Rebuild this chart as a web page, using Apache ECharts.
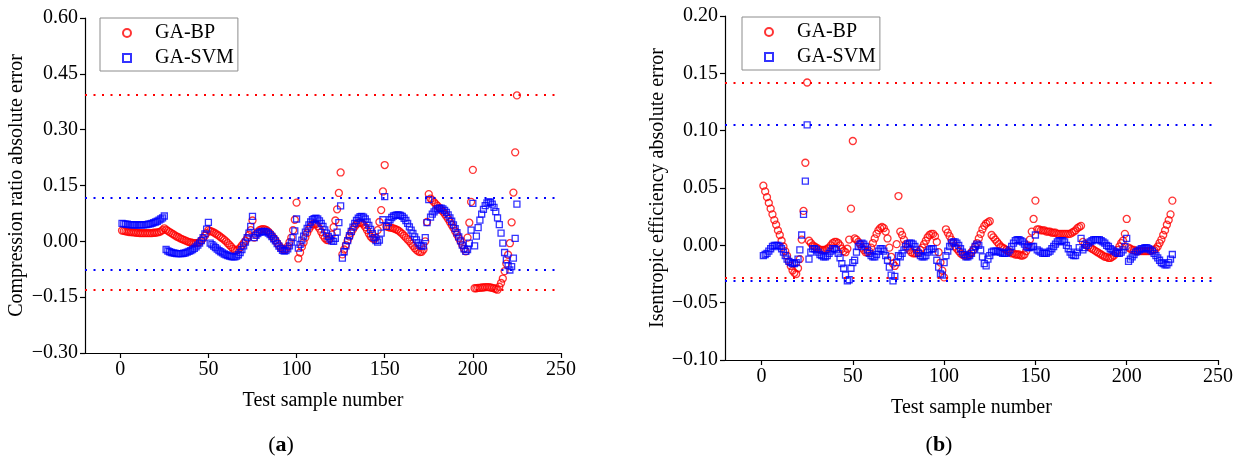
<!DOCTYPE html>
<html><head><meta charset="utf-8">
<script src="https://cdn.jsdelivr.net/npm/echarts@6/dist/echarts.min.js"></script>
<style>html,body{margin:0;padding:0;background:#fff}#c{width:1236px;height:461px}</style>
</head><body><div id="c"></div>
<script>
// ---------- data ----------
const sampleStart = 1;
const xTicks = [0, 50, 100, 150, 200, 250];

// (a) Compression ratio absolute error
const ratioBP = [
  0.029,0.028,0.027,0.026,0.025, 0.025,0.024,0.024,0.023,0.023, 0.022,0.022,0.022,0.022,0.022, 0.022,0.022,0.022,0.023,0.023, 0.024,0.025,0.027,0.030,0.035,
  0.031,0.028,0.025,0.022,0.019, 0.016,0.013,0.011,0.008,0.006, 0.004,0.002,0.000,-0.002,-0.003, -0.004,-0.005,-0.005,-0.004,-0.002, 0.002,0.008,0.015,0.022,0.030,
  0.028,0.026,0.024,0.021,0.018, 0.015,0.011,0.008,0.004,0.000, -0.005,-0.010,-0.015,-0.020,-0.024, -0.025,-0.022,-0.017,-0.011,-0.005, 0.001,0.008,0.017,0.030,0.056,
  0.010,0.018,0.025,0.030,0.032, 0.033,0.032,0.030,0.026,0.021, 0.015,0.009,0.003,-0.004,-0.011, -0.017,-0.021,-0.023,-0.021,-0.014, -0.002,0.010,0.030,0.058,0.104,
  -0.046,-0.030,-0.015,-0.003,0.010, 0.022,0.032,0.040,0.046,0.048, 0.046,0.041,0.034,0.025,0.016, 0.009,0.004,0.003,0.008,0.018, 0.038,0.056,0.086,0.130,0.185,
  -0.035,-0.022,-0.010,0.002,0.013, 0.023,0.032,0.040,0.046,0.050, 0.051,0.049,0.045,0.038,0.030, 0.021,0.013,0.008,0.006,0.010, 0.030,0.052,0.084,0.134,0.205,
  0.040,0.038,0.037,0.036,0.035, 0.033,0.031,0.028,0.024,0.020, 0.015,0.010,0.005,0.000,-0.006, -0.012,-0.018,-0.023,-0.027,-0.029, -0.028,-0.022,0.000,0.052,0.127,
  0.115,0.110,0.105,0.100,0.095, 0.090,0.085,0.080,0.074,0.067, 0.060,0.052,0.044,0.036,0.027, 0.018,0.009,0.000,-0.010,-0.020, -0.027,0.010,0.050,0.106,0.192,
  -0.126,-0.126,-0.125,-0.125,-0.124, -0.124,-0.123,-0.123,-0.123,-0.124, -0.125,-0.126,-0.128,-0.130,-0.122, -0.112,-0.100,-0.080,-0.060,-0.036, -0.005,0.051,0.131,0.239,0.392
];
const ratioSVM = [
  0.048,0.047,0.046,0.046,0.045, 0.045,0.044,0.044,0.044,0.044, 0.044,0.044,0.044,0.045,0.045, 0.046,0.047,0.048,0.050,0.052, 0.054,0.057,0.060,0.063,0.068,
  -0.022,-0.026,-0.028,-0.030,-0.031, -0.032,-0.033,-0.033,-0.033,-0.033, -0.032,-0.031,-0.029,-0.027,-0.025, -0.022,-0.019,-0.015,-0.010,-0.005, 0.002,0.010,0.020,0.033,0.051,
  -0.005,-0.009,-0.013,-0.017,-0.021, -0.025,-0.028,-0.031,-0.034,-0.036, -0.038,-0.040,-0.041,-0.042,-0.042, -0.040,-0.036,-0.030,-0.022,-0.012, -0.002,0.010,0.022,0.040,0.067,
  0.010,0.016,0.021,0.024,0.026, 0.027,0.027,0.025,0.022,0.018, 0.013,0.007,0.001,-0.006,-0.013, -0.019,-0.024,-0.026,-0.025,-0.020, -0.012,-0.002,0.010,0.028,0.060,
  -0.018,-0.008,0.003,0.014,0.025, 0.035,0.044,0.052,0.058,0.061, 0.062,0.060,0.055,0.048,0.040, 0.031,0.022,0.013,0.006,0.001, 0.000,0.008,0.025,0.050,0.095,
  -0.045,-0.028,-0.012,0.002,0.015, 0.027,0.038,0.048,0.056,0.062, 0.066,0.067,0.065,0.060,0.052, 0.043,0.032,0.021,0.010,0.002, -0.002,0.003,0.022,0.058,0.120,
  0.040,0.050,0.058,0.064,0.068, 0.070,0.071,0.071,0.070,0.067, 0.062,0.056,0.048,0.039,0.030, 0.021,0.012,0.004,-0.004,-0.010, -0.013,-0.012,0.010,0.050,0.112,
  0.065,0.073,0.079,0.084,0.087, 0.089,0.089,0.087,0.083,0.078, 0.071,0.063,0.054,0.044,0.034, 0.023,0.012,0.001,-0.010,-0.020, -0.027,-0.022,-0.005,0.030,0.102,
  -0.012,0.014,0.037,0.057,0.073, 0.086,0.096,0.103,0.106,0.105, 0.100,0.091,0.080,0.063,0.045, 0.022,-0.005,-0.030,-0.050,-0.065, -0.077,-0.068,-0.045,0.008,0.100
];
const ratioBPLimits = [0.393, -0.131];
const ratioSVMLimits = [0.118, -0.077];
const ratioTicks = [-0.30, 0.60, 0.15];

// (b) Isentropic efficiency absolute error
const effBP = [
  0.052,0.047,0.042,0.037,0.032, 0.027,0.022,0.018,0.013,0.009, 0.004,-0.001,-0.005,-0.009,-0.014, -0.018,-0.022,-0.024,-0.025,-0.020, -0.012,0.005,0.030,0.072,0.142,
  0.004,0.002,0.000,-0.001,-0.002, -0.003,-0.004,-0.004,-0.004,-0.004, -0.003,-0.002,0.000,0.002,0.003, 0.003,0.002,0.000,-0.003,-0.005, -0.006,-0.003,0.005,0.032,0.091,
  0.006,0.005,0.003,0.001,-0.002, -0.004,-0.006,-0.006,-0.005,-0.002, 0.002,0.006,0.010,0.013,0.015, 0.016,0.015,0.012,0.006,-0.002, -0.010,-0.016,-0.018,0.001,0.043,
  0.012,0.009,0.005,0.001,-0.002, -0.004,-0.006,-0.007,-0.007,-0.007, -0.006,-0.004,-0.002,0.001,0.004, 0.007,0.009,0.010,0.010,0.008, 0.003,-0.006,-0.015,-0.022,-0.028,
  0.014,0.011,0.008,0.005,0.002, -0.001,-0.003,-0.005,-0.007,-0.008, -0.009,-0.009,-0.009,-0.008,-0.006, -0.004,-0.001,0.002,0.006,0.010, 0.014,0.017,0.019,0.020,0.021,
  0.009,0.007,0.005,0.003,0.001, -0.001,-0.002,-0.003,-0.004,-0.005, -0.006,-0.007,-0.007,-0.008,-0.008, -0.008,-0.009,-0.009,-0.008,-0.005, 0.000,0.005,0.012,0.023,0.039,
  0.014,0.014,0.013,0.013,0.013, 0.012,0.012,0.012,0.011,0.011, 0.011,0.010,0.010,0.010,0.010, 0.010,0.010,0.010,0.010,0.011, 0.012,0.013,0.015,0.016,0.017,
  0.003,0.001,0.000,-0.001,-0.002, -0.003,-0.004,-0.005,-0.006,-0.007, -0.008,-0.009,-0.010,-0.010,-0.011, -0.011,-0.010,-0.009,-0.007,-0.004, -0.001,0.002,0.004,0.010,0.023,
  -0.002,-0.003,-0.004,-0.004,-0.005, -0.005,-0.005,-0.005,-0.005,-0.005, -0.005,-0.005,-0.005,-0.004,-0.004, -0.003,-0.001,0.002,0.005,0.009, 0.013,0.018,0.022,0.027,0.039
];
const effSVM = [
  -0.009,-0.008,-0.007,-0.005,-0.003, -0.001,0.000,0.000,0.000,-0.001, -0.003,-0.006,-0.009,-0.012,-0.014, -0.015,-0.016,-0.016,-0.015,-0.012, -0.004,0.009,0.027,0.056,0.105,
  -0.012,-0.006,-0.003,-0.003,-0.004, -0.006,-0.008,-0.009,-0.010,-0.010, -0.009,-0.007,-0.005,-0.003,-0.003, -0.004,-0.007,-0.011,-0.016,-0.020, -0.026,-0.031,-0.030,-0.020,-0.015,
  -0.013,-0.006,-0.001,0.001,0.002, 0.001,-0.001,-0.004,-0.007,-0.009, -0.010,-0.010,-0.008,-0.005,-0.003, -0.003,-0.005,-0.009,-0.013,-0.019, -0.026,-0.031,-0.027,-0.015,-0.009,
  -0.010,-0.007,-0.004,-0.001,0.001, 0.002,0.002,0.001,-0.001,-0.004, -0.007,-0.009,-0.010,-0.010,-0.009, -0.006,-0.004,-0.003,-0.003,-0.006, -0.013,-0.019,-0.025,-0.026,-0.015,
  -0.009,-0.005,-0.001,0.002,0.003, 0.003,0.002,0.000,-0.003,-0.006, -0.008,-0.010,-0.010,-0.009,-0.007, -0.004,-0.001,0.001,0.000,-0.004, -0.010,-0.016,-0.018,-0.012,-0.009,
  -0.006,-0.005,-0.005,-0.005,-0.006, -0.006,-0.007,-0.007,-0.007,-0.006, -0.004,-0.001,0.002,0.004,0.005, 0.005,0.004,0.003,0.001,-0.001, -0.002,-0.002,-0.001,-0.001,0.009,
  -0.004,-0.005,-0.006,-0.007,-0.007, -0.007,-0.006,-0.005,-0.003,-0.001, 0.001,0.003,0.004,0.004,0.004, 0.003,0.000,-0.003,-0.006,-0.008, -0.009,-0.009,-0.006,-0.002,0.006,
  -0.004,-0.002,0.000,0.002,0.003, 0.004,0.005,0.005,0.005,0.005, 0.004,0.003,0.002,0.000,-0.001, -0.003,-0.004,-0.005,-0.006,-0.007, -0.007,-0.006,-0.004,-0.001,0.006,
  -0.014,-0.012,-0.010,-0.008,-0.006, -0.005,-0.004,-0.003,-0.003,-0.002, -0.002,-0.003,-0.004,-0.005,-0.007, -0.009,-0.011,-0.013,-0.015,-0.016, -0.017,-0.017,-0.015,-0.012,-0.008
];
const effBPLimits = [0.142, -0.028];
const effSVMLimits = [0.105, -0.031];
const effTicks = [-0.10, 0.20, 0.05];

const seriesNames = ['GA-BP', 'GA-SVM'];
const xTitle = 'Test sample number';
const yTitles = ['Compression ratio absolute error', 'Isentropic efficiency absolute error'];
const panelLetters = ['a', 'b'];

// ---------- chart ----------
const FONT = '"Liberation Serif", "Times New Roman", serif';
const RED = '#ff0000', BLUE = '#0000ff';
const pts = arr => arr.map((v, i) => [sampleStart + i, v]);
const fmt = v => { const r = Math.round(v * 100) / 100; return (r < 0 ? '\u2212' : '') + Math.abs(r).toFixed(2); };

function xAxisOf(idx, gap) {
  return {
    gridIndex: idx, type: 'value', min: -20, max: 250,
    name: xTitle, nameLocation: 'middle', nameGap: gap,
    nameTextStyle: { fontFamily: FONT, fontSize: 20, color: '#000' },
    axisLine: { onZero: false, lineStyle: { color: '#000', width: 1.2 } },
    axisTick: { show: true, inside: false, length: 5, customValues: xTicks, lineStyle: { color: '#000', width: 1.2 } },
    axisLabel: { customValues: xTicks, fontFamily: FONT, fontSize: 20, color: '#000', margin: 7 },
    splitLine: { show: false }
  };
}
function yAxisOf(idx, ticks, title, gap) {
  return {
    gridIndex: idx, type: 'value', min: ticks[0], max: ticks[1], interval: ticks[2],
    name: title, nameLocation: 'middle', nameGap: gap,
    nameTextStyle: { fontFamily: FONT, fontSize: 20, color: '#000' },
    axisLine: { show: true, onZero: false, lineStyle: { color: '#000', width: 1.2 } },
    axisTick: { show: true, inside: false, length: 5, lineStyle: { color: '#000', width: 1.2 } },
    axisLabel: { formatter: fmt, fontFamily: FONT, fontSize: 20, color: '#000', margin: 7 },
    splitLine: { show: false }
  };
}
function limitLines(vals, color) {
  return {
    silent: true, symbol: 'none', animation: false, precision: 4,
    label: { show: false },
    lineStyle: { color: color, type: [2, 6.5], width: 2 },
    data: vals.map(v => ({ yAxis: v }))
  };
}
function scatter(idx, name, arr, color, symbol, size, limits) {
  return {
    type: 'scatter', name: name, xAxisIndex: idx, yAxisIndex: idx,
    data: pts(arr), symbol: symbol, symbolSize: size,
    itemStyle: { color: 'rgba(255,255,255,0)', borderColor: color, borderWidth: 1.3 },
    markLine: limitLines(limits, color),
    animation: false
  };
}
function legendOf(left, top) {
  return {
    data: seriesNames, orient: 'vertical', left: left, top: top,
    itemWidth: 8, itemHeight: 8, itemGap: 5,
    padding: [5, 4, 3, 22],
    backgroundColor: '#fff', borderColor: '#8c8c8c', borderWidth: 1, borderRadius: 0,
    textStyle: { fontFamily: FONT, fontSize: 20, color: '#000', lineHeight: 20, padding: [0, 0, 0, 19] },
    selectedMode: false
  };
}
function letter(cx, cy, l) {
  return {
    type: 'text', x: cx, y: cy,
    style: {
      text: '{p|(}{b|' + l + '}{p|)}', align: 'center', verticalAlign: 'middle',
      rich: {
        p: { fontFamily: FONT, fontSize: 22, color: '#000' },
        b: { fontFamily: FONT, fontSize: 22, fontWeight: 'bold', color: '#000' }
      }
    }
  };
}

const chart = echarts.init(document.getElementById('c'), null, { renderer: 'canvas' });
chart.setOption({
  animation: false,
  backgroundColor: '#fff',
  grid: [
    { left: 85, top: 18, width: 476, height: 335 },
    { left: 725, top: 16, width: 499, height: 344 }
  ],
  xAxis: [xAxisOf(0, 38), xAxisOf(1, 38)],
  yAxis: [yAxisOf(0, ratioTicks, yTitles[0], 58), yAxisOf(1, effTicks, yTitles[1], 56)],
  legend: [legendOf(100, 18), legendOf(742, 17)],
  series: [
    scatter(0, seriesNames[0], ratioBP, RED, 'circle', 7, ratioBPLimits),
    scatter(0, seriesNames[1], ratioSVM, BLUE, 'rect', 6, ratioSVMLimits),
    scatter(1, seriesNames[0], effBP, RED, 'circle', 7, effBPLimits),
    scatter(1, seriesNames[1], effSVM, BLUE, 'rect', 6, effSVMLimits)
  ],
  graphic: [letter(281, 445, panelLetters[0]), letter(939, 445, panelLetters[1])]
});
</script>
</body></html>
